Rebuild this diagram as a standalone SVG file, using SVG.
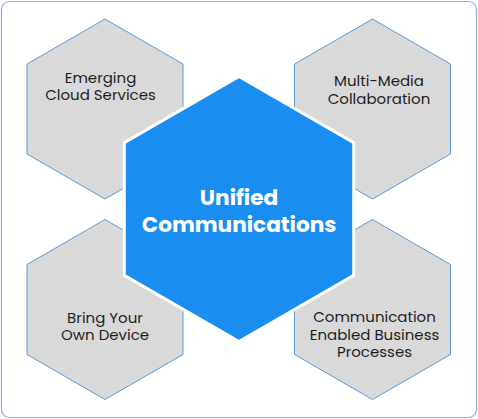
<svg xmlns="http://www.w3.org/2000/svg" width="478" height="419" viewBox="0 0 478 419">
<style>
.frame{fill:#ffffff;stroke:#8eaae6;stroke-width:1.2}
.gray{fill:#d9d9d9;stroke:#5b9bd5;stroke-width:1}
.center{fill:#1a8ef0;stroke:#ffffff;stroke-width:3}
.lbl{font-family:"Poppins","Inter","Open Sans",sans-serif;font-size:15px;fill:#1e1e1e;text-anchor:middle}
.title{font-family:"Poppins","Inter","Open Sans",sans-serif;font-size:21.6px;font-weight:700;fill:#ffffff;text-anchor:middle}
</style>
<rect class="frame" x="1.5" y="1.5" width="475" height="416" rx="8"/>
<g id="connectors"></g>
<g id="node-cloud">
<polygon class="gray" points="105,19 183,64 183,154 105,199 27,154 27,64"/>
<text class="lbl" x="100.5" y="82.5">Emerging</text>
<text class="lbl" x="100.5" y="100">Cloud Services</text>
</g>
<g id="node-multimedia">
<polygon class="gray" points="372.5,19 450.5,64 450.5,154 372.5,199 294.5,154 294.5,64"/>
<text class="lbl" x="379" y="86">Multi-Media</text>
<text class="lbl" x="379" y="103.5">Collaboration</text>
</g>
<g id="node-byod">
<polygon class="gray" points="105,219.5 183,264.5 183,354.5 105,399.5 27,354.5 27,264.5"/>
<text class="lbl" x="105" y="322.5">Bring Your</text>
<text class="lbl" x="105" y="339.5">Own Device</text>
</g>
<g id="node-cebp">
<polygon class="gray" points="372.5,219.5 450.5,264.5 450.5,354.5 372.5,399.5 294.5,354.5 294.5,264.5"/>
<text class="lbl" x="374.5" y="322">Communication</text>
<text class="lbl" x="374.5" y="339.7">Enabled Business</text>
<text class="lbl" x="374.5" y="357.4">Processes</text>
</g>
<g id="node-uc">
<polygon class="center" points="239,76.5 353.7,142.7 353.7,275.3 239,341.5 124.3,275.3 124.3,142.7"/>
<text class="title" x="239" y="205.3">Unified</text>
<text class="title" x="239" y="232">Communications</text>
</g>
</svg>
